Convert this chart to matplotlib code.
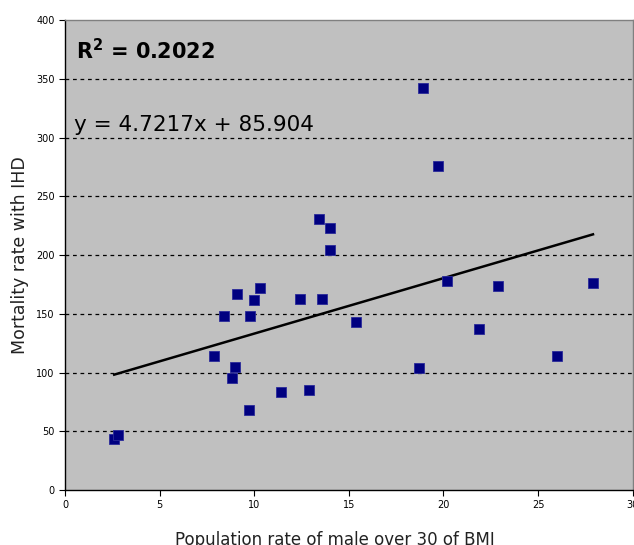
import numpy as np
import matplotlib.pyplot as plt

# BMI>30 male population rate vs IHD mortality
bmi_rate = [2.6, 2.8, 7.9, 8.4, 8.8, 9.0, 9.1, 9.7, 9.8, 10.0, 10.3, 11.4, 12.4, 12.9,
            13.4, 13.6, 14.0, 14.0, 15.4, 18.7, 18.9, 19.7, 20.2, 21.9, 22.9, 26.0, 27.9]
mortality = [43, 47, 114, 148, 95, 105, 167, 68, 148, 162, 172, 83, 163, 85,
             231, 163, 223, 204, 143, 104, 342, 276, 178, 137, 174, 114, 176]

slope, intercept = 4.7217, 85.904
r2 = 0.2022

fig = plt.figure(figsize=(6.34, 5.45), dpi=100)
ax = fig.add_axes([0.1025, 0.101, 0.8955, 0.862])
ax.set_facecolor('#c0c0c0')

# dashed grid
for yv in range(50, 400, 50):
    ax.axhline(yv, color='black', lw=0.9, ls=(0, (3, 3)), zorder=1)

ax.plot(bmi_rate, mortality, 's', color='#000080', markersize=7.5,
        markeredgecolor='#2a2a9a', markeredgewidth=0.6, zorder=3)

xs = np.array([min(bmi_rate), max(bmi_rate)])
ax.plot(xs, slope * xs + intercept, color='black', lw=1.8, zorder=2)

ax.text(0.6, 374, r'$\mathbf{R^2}$ = %.4f' % r2, fontsize=15, fontweight='bold', va='center')
ax.text(0.45, 311, 'y = %.4fx + %.3f' % (slope, intercept), fontsize=15.5, va='center')

ax.set_xlim(0, 30)
ax.set_ylim(0, 400)
ax.set_xticks(range(0, 31, 5))
ax.set_yticks(range(0, 401, 50))
ax.tick_params(labelsize=7, length=4, width=0.8, direction='out')

for s in ['left', 'bottom']:
    ax.spines[s].set_color('black')
    ax.spines[s].set_linewidth(1.0)
for s in ['top', 'right']:
    ax.spines[s].set_color('#808080')
    ax.spines[s].set_linewidth(1.0)

ax.set_xlabel('Population rate of male over 30 of BMI', fontsize=12, color='#222222')
ax.xaxis.set_label_coords(0.475, -0.088)
ax.set_ylabel('Mortality rate with IHD', fontsize=12.5, color='#222222', labelpad=5)

fig.savefig('out.png', dpi=100)
